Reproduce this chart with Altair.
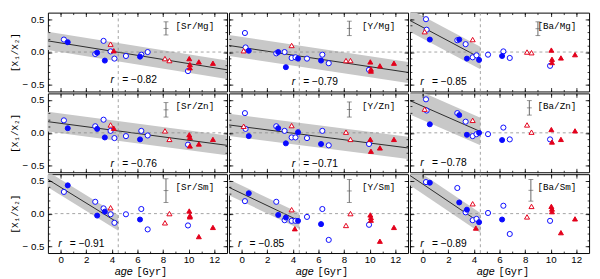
import altair as alt
import pandas as pd

# ---------------- data ----------------
PANELS = ["Sr/Mg", "Y/Mg", "Ba/Mg", "Sr/Zn", "Y/Zn", "Ba/Zn", "Sr/Sm", "Y/Sm", "Ba/Sm"]

AGE_OPEN_CIRCLE = [0.25, 0.3, 2.7, 3.35, 3.9, 4.2, 5.1, 6.3, 6.8, 9.95]
AGE_FILLED_CIRCLE = [0.55, 2.85, 3.45, 4.4, 6.2]
AGE_OPEN_TRIANGLE = [0.15, 3.9, 8.15, 8.5]
AGE_FILLED_TRIANGLE = [4.15, 10.05, 10.1, 10.1, 10.8, 11.9]

N = None
SR_MG_OC = [0.19, N, -0.03, 0.17, 0.01, -0.10, -0.06, -0.04, 0.00, -0.29]
SR_MG_FC = [0.15, -0.01, -0.13, N, -0.07]
SR_MG_OT = [N, 0.12, -0.10, -0.13]
SR_MG_FT = [0.02, -0.10, -0.19, -0.24, -0.15, -0.17]

Y_MG_OC = [0.29, 0.07, -0.02, 0.00, -0.09, -0.08, -0.10, -0.04, -0.17, -0.27]
Y_MG_FC = [0.02, 0.00, -0.23, -0.10, -0.13]
Y_MG_OT = [0.02, 0.10, -0.13, -0.13]
Y_MG_FT = [N, -0.15, -0.26, -0.29, -0.21, -0.17]

BA_MG_OC = [0.50, 0.34, 0.18, 0.12, -0.08, -0.05, -0.04, 0.01, -0.09, -0.21]
BA_MG_FC = [0.19, 0.19, -0.10, -0.12, -0.06]
BA_MG_OT = [0.31, 0.19, 0.00, -0.01]
BA_MG_FT = [N, 0.03, -0.11, -0.16, -0.09, -0.04]

SR_ZN_OC = [0.19, N, 0.10, 0.20, 0.03, -0.08, -0.05, 0.03, -0.04, -0.18]
SR_ZN_FC = [0.07, 0.06, -0.07, N, -0.10]
SR_ZN_OT = [N, 0.12, 0.03, -0.10]
SR_ZN_FT = [0.07, -0.03, -0.07, -0.20, -0.17, -0.10]

Y_ZN_OC = [0.30, 0.06, 0.10, 0.03, -0.07, -0.07, -0.08, 0.03, -0.19, -0.17]
Y_ZN_FC = [-0.05, 0.07, -0.16, 0.01, -0.17]
Y_ZN_OT = [0.10, 0.11, 0.01, -0.10]
Y_ZN_FT = [N, -0.10, N, -0.28, -0.23, -0.10]

BA_ZN_OC = [0.51, 0.34, 0.30, 0.17, -0.05, -0.02, -0.02, 0.08, -0.10, -0.10]
BA_ZN_FC = [0.13, 0.27, -0.03, 0.00, -0.11]
BA_ZN_OT = [0.36, 0.19, 0.12, 0.01]
BA_ZN_FT = [N, 0.05, -0.14, N, -0.10, 0.03]

SR_SM_OC = [0.33, N, 0.18, 0.08, -0.01, -0.14, -0.01, 0.07, -0.24, -0.18]
SR_SM_FC = [0.43, -0.03, 0.03, N, -0.09]
SR_SM_OT = [N, 0.09, -0.14, 0.00]
SR_SM_FT = [N, 0.04, -0.03, -0.05, -0.35, -0.21]

Y_SM_OC = [0.19, N, 0.18, -0.10, -0.11, -0.11, -0.05, 0.07, -0.40, -0.17]
Y_SM_FC = [0.31, -0.02, -0.06, -0.11, -0.16]
Y_SM_OT = [N, 0.06, -0.18, 0.00]
Y_SM_FT = [-0.23, -0.02, -0.06, -0.10, -0.42, -0.21]

BA_SM_OC = [0.48, N, 0.39, 0.02, -0.10, -0.08, 0.01, 0.12, -0.31, -0.11]
BA_SM_FC = [0.47, 0.17, 0.06, -0.13, -0.09]
BA_SM_OT = [N, 0.15, -0.05, 0.11]
BA_SM_FT = [-0.22, 0.11, 0.07, 0.03, -0.29, -0.08]

# linear fit (start at age -1, end at FIT_X_END) and band half width
FIT_Y_START = [0.17, 0.10, 0.48, 0.17, 0.12, 0.49, 0.52, 0.40, 0.58]
FIT_Y_END = [-0.27, -0.31, -0.09, -0.19, -0.23, 0.02, -0.14, -0.11, -0.14]
FIT_X_END = [13, 13, 4.5, 13, 13, 4.5, 4.5, 4.5, 4.5]
FIT_HALF = [0.14, 0.16, 0.17, 0.15, 0.17, 0.21, 0.12, 0.12, 0.15]

R_VALUES = ["−0.82", "−0.79", "−0.85", "−0.76", "−0.71", "−0.78", "−0.91", "−0.85", "−0.89"]
R_X = [3.9, 3.9, -0.2, 3.9, 3.9, -0.2, -0.2, -0.3, -0.2]
R_Y = [-0.43, -0.46, -0.46, -0.47, -0.47, -0.46, -0.47, -0.47, -0.47]

ERR_X = [8.23, 8.41, 9.0, 8.23, 8.41, 8.33, 8.23, 8.41, 8.45]
ERR_LO = [0.26, 0.25, 0.25, 0.24, 0.24, 0.27, 0.17, 0.17, 0.19]
ERR_HI = [0.46, 0.47, 0.46, 0.46, 0.47, 0.49, 0.53, 0.52, 0.52]

LABEL_X = 12.0
LABEL_Y = 0.40
SOLAR_AGE = 4.5
ZERO_LEVEL = 0.0

SERIES = [
    (SR_MG_OC, SR_MG_OT, SR_MG_FC, SR_MG_FT),
    (Y_MG_OC, Y_MG_OT, Y_MG_FC, Y_MG_FT),
    (BA_MG_OC, BA_MG_OT, BA_MG_FC, BA_MG_FT),
    (SR_ZN_OC, SR_ZN_OT, SR_ZN_FC, SR_ZN_FT),
    (Y_ZN_OC, Y_ZN_OT, Y_ZN_FC, Y_ZN_FT),
    (BA_ZN_OC, BA_ZN_OT, BA_ZN_FC, BA_ZN_FT),
    (SR_SM_OC, SR_SM_OT, SR_SM_FC, SR_SM_FT),
    (Y_SM_OC, Y_SM_OT, Y_SM_FC, Y_SM_FT),
    (BA_SM_OC, BA_SM_OT, BA_SM_FC, BA_SM_FT),
]
GROUPS = ["open circle", "open triangle", "filled circle", "filled triangle"]
GROUP_AGES = [AGE_OPEN_CIRCLE, AGE_OPEN_TRIANGLE, AGE_FILLED_CIRCLE, AGE_FILLED_TRIANGLE]

# ---------------- styling ----------------
BLUE = "#0a0aff"
RED = "#e3001b"
BAND = "#c8c8c8"
W, H = 184, 81
SANS = "Liberation Sans"
MONO = "Liberation Mono, DejaVu Sans Mono"

Y_MAJOR = [-0.5, 0.0, 0.5]
Y_MINOR = [round(-0.5 + 0.1 * k, 1) for k in range(11)]
X_MAJOR = list(range(0, 13, 2))
X_MINOR = list(range(0, 13))


def xs():
    return alt.Scale(domain=[-1, 13], nice=False, zero=False)


def ys():
    return alt.Scale(domain=[-0.6, 0.6], nice=False, zero=False)


def ax(orient, values, size, **kw):
    d = dict(orient=orient, values=values, tickSize=size, offset=-size, domain=False,
             grid=False, labels=False, ticks=True, tickColor="black", tickWidth=0.8,
             title=None, zindex=1)
    d.update(kw)
    return alt.Axis(**d)


def panel(i):
    name = PANELS[i]
    row, col = divmod(i, 3)
    first_col = col == 0
    last_row = row == 2

    y_left_kw = {}
    if first_col:
        y_left_kw = dict(labels=True, labelFont=SANS, labelFontSize=10, labelColor="black",
                         labelPadding=4,
                         labelExpr="datum.value < 0 ? '\u2212 ' + format(-datum.value, '.1f') : format(datum.value, '.1f')",
                         title="[X\u2081/X\u2082]", titleFont=MONO, titleFontSize=9.5,
                         titleFontWeight="normal", titleColor="black", titlePadding=3)
    x_bot_kw = {}
    if last_row:
        x_bot_kw = dict(labels=True, labelFont=SANS, labelFontSize=10, labelColor="black",
                        labelPadding=2, format="d")

    fit_start = FIT_Y_START[i]
    fit_end = FIT_Y_END[i]
    half = FIT_HALF[i]
    band_df = pd.DataFrame({
        "age": [-1, FIT_X_END[i]],
        "fit": [fit_start, fit_end],
        "lo": [fit_start - half, fit_end - half],
        "hi": [fit_start + half, fit_end + half],
    })

    band = alt.Chart(band_df).mark_area(color=BAND, clip=True).encode(
        x=alt.X("age:Q", scale=xs(), axis=ax("bottom", X_MAJOR, 4, **x_bot_kw)),
        y=alt.Y("lo:Q", scale=ys(), axis=ax("left", Y_MAJOR, 4, **y_left_kw)),
        y2="hi:Q",
    )
    line = alt.Chart(band_df).mark_line(color="black", strokeWidth=0.8, clip=True).encode(
        x=alt.X("age:Q", scale=xs(), axis=ax("bottom", X_MINOR, 2)),
        y=alt.Y("fit:Q", scale=ys(), axis=ax("left", Y_MINOR, 2)),
    )
    hrule = alt.Chart(pd.DataFrame({"v": [ZERO_LEVEL]})).mark_rule(
        color="#8a8a8a", strokeDash=[3, 3], strokeWidth=0.8).encode(
        y=alt.Y("v:Q", scale=ys(), axis=None))
    vrule = alt.Chart(pd.DataFrame({"v": [SOLAR_AGE]})).mark_rule(
        color="#8a8a8a", strokeDash=[3, 3], strokeWidth=0.8).encode(
        x=alt.X("v:Q", scale=xs(), axis=None))

    rows = []
    for k, (g, ages, vals) in enumerate(zip(GROUPS, GROUP_AGES, SERIES[i])):
        for a, v in zip(ages, vals):
            if v is not None:
                rows.append({"age": a, "val": v, "grp": g, "ord": k})
    pts_df = pd.DataFrame(rows)
    points = alt.Chart(pts_df).mark_point(filled=True, strokeWidth=1, opacity=1).encode(
        x=alt.X("age:Q", scale=xs(), axis=ax("top", X_MAJOR, 4)),
        y=alt.Y("val:Q", scale=ys(), axis=ax("right", Y_MAJOR, 4)),
        shape=alt.Shape("grp:N", legend=None, scale=alt.Scale(
            domain=GROUPS, range=["circle", "triangle-up", "circle", "triangle-up"])),
        fill=alt.Fill("grp:N", legend=None, scale=alt.Scale(
            domain=GROUPS, range=["white", "white", BLUE, RED])),
        stroke=alt.Stroke("grp:N", legend=None, scale=alt.Scale(
            domain=GROUPS, range=[BLUE, RED, BLUE, RED])),
        size=alt.Size("grp:N", legend=None, scale=alt.Scale(
            domain=GROUPS, range=[28, 26, 24, 28])),
        order=alt.Order("ord:Q"),
    )

    lab_df = pd.DataFrame({"x": [LABEL_X], "y": [LABEL_Y], "t": ["[" + name + "]"]})
    label = alt.Chart(lab_df).mark_text(font=MONO, fontSize=9.5, align="right",
                                        baseline="middle", color="black").encode(
        x=alt.X("x:Q", scale=xs(), axis=ax("top", X_MINOR, 2)),
        y=alt.Y("y:Q", scale=ys(), axis=ax("right", Y_MINOR, 2)),
        text="t:N",
    )

    err_df = pd.DataFrame({"x": [ERR_X[i]], "lo": [ERR_LO[i]], "hi": [ERR_HI[i]]})
    err_rule = alt.Chart(err_df).mark_rule(color="#555", strokeWidth=0.9).encode(
        x=alt.X("x:Q", scale=xs(), axis=None),
        y=alt.Y("lo:Q", scale=ys(), axis=None),
        y2="hi:Q",
    )
    cap_df = pd.DataFrame({"x": [ERR_X[i]] * 3,
                           "y": [ERR_LO[i], (ERR_LO[i] + ERR_HI[i]) / 2, ERR_HI[i]]})
    err_caps = alt.Chart(cap_df).mark_tick(orient="horizontal", size=5, thickness=0.9,
                                           color="#555").encode(
        x=alt.X("x:Q", scale=xs(), axis=None),
        y=alt.Y("y:Q", scale=ys(), axis=None),
    )

    r_df = pd.DataFrame({"x": [R_X[i]], "y": [R_Y[i]], "r": ["r"],
                         "v": ["= " + R_VALUES[i]]})
    r1 = alt.Chart(r_df).mark_text(font=SANS, fontStyle="italic", fontSize=11,
                                   align="left", baseline="middle", color="black").encode(
        x=alt.X("x:Q", scale=xs(), axis=None),
        y=alt.Y("y:Q", scale=ys(), axis=None),
        text="r:N",
    )
    r2 = alt.Chart(r_df).mark_text(font=SANS, fontSize=10.5, align="left", dx=12,
                                   baseline="middle", color="black").encode(
        x=alt.X("x:Q", scale=xs(), axis=None),
        y=alt.Y("y:Q", scale=ys(), axis=None),
        text="v:N",
    )

    layers = [band, line, hrule, vrule, points, label, err_rule, err_caps, r1, r2]

    if last_row:
        t_df = pd.DataFrame({"a": ["age"], "b": ["[Gyr]"]})
        t1 = alt.Chart(t_df).mark_text(font=SANS, fontStyle="italic", fontSize=11,
                                       align="right", baseline="middle", color="black").encode(
            text="a:N", x=alt.value(W / 2 - 5), y=alt.value(H + 20))
        t2 = alt.Chart(t_df).mark_text(font=MONO, fontSize=10.5, align="left",
                                       baseline="middle", color="black").encode(
            text="b:N", x=alt.value(W / 2 - 1), y=alt.value(H + 20))
        layers += [t1, t2]

    return alt.layer(*layers).resolve_axis(x="independent", y="independent").properties(
        width=W, height=H)


rows_charts = [alt.hconcat(*[panel(3 * r + c) for c in range(3)], spacing=0) for r in range(3)]
chart = alt.vconcat(*rows_charts, spacing=0).configure_view(
    stroke="black", strokeWidth=1).properties(
    padding={"left": 0, "top": 0, "right": 2, "bottom": 0}, background="white")

chart.save("out.html", embed_options={"renderer": "svg", "actions": False})
